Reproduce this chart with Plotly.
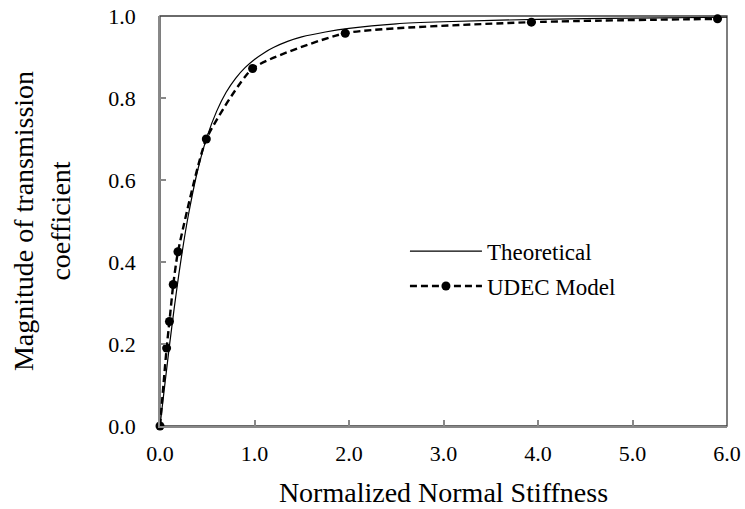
import plotly.graph_objects as go

# Theoretical curve
theo_x = [0, 0.05, 0.1, 0.15, 0.2, 0.25, 0.3, 0.4, 0.5, 0.6, 0.7, 0.8, 0.9, 1.0,
          1.1, 1.2, 1.35, 1.5, 1.75, 2.0, 2.5, 3.0, 4.0, 5.0, 6.0]
theo_y = [0, 0.099, 0.196, 0.287, 0.371, 0.447, 0.514, 0.625, 0.707, 0.768, 0.814,
          0.848, 0.874, 0.894, 0.910, 0.923, 0.938, 0.949, 0.961, 0.970, 0.981,
          0.986, 0.992, 0.995, 0.997]

# UDEC model points
udec_x = [0, 0.07, 0.10, 0.14, 0.19, 0.49, 0.98, 1.96, 3.93, 5.9]
udec_y = [0, 0.19, 0.255, 0.345, 0.425, 0.70, 0.872, 0.958, 0.985, 0.993]

x_ticks = [0, 1, 2, 3, 4, 5, 6]
x_tick_labels = ["0.0", "1.0", "2.0", "3.0", "4.0", "5.0", "6.0"]
y_ticks = [0, 0.2, 0.4, 0.6, 0.8, 1.0]
y_tick_labels = ["0.0", "0.2", "0.4", "0.6", "0.8", "1.0"]

FONT = "Liberation Serif, Times New Roman, serif"

fig = go.Figure()
fig.add_trace(go.Scatter(x=theo_x, y=theo_y, mode="lines", name="Theoretical",
                         legendgroup="a",
                         line=dict(color="black", width=1.2, shape="spline", smoothing=0.6)))
fig.add_trace(go.Scatter(x=udec_x, y=udec_y, mode="lines+markers", name="UDEC Model",
                         legendgroup="b", cliponaxis=False,
                         line=dict(color="black", width=2.4, dash="7px,4px",
                                   shape="spline", smoothing=0.5),
                         marker=dict(color="black", size=9)))

fig.add_shape(type="rect", xref="paper", yref="paper", x0=0, x1=1, y0=0, y1=1,
              line=dict(color="#3a3a3a", width=1.3), layer="below")

fig.update_layout(
    width=745, height=509,
    margin=dict(l=160, r=18, t=16, b=83),
    paper_bgcolor="white", plot_bgcolor="white",
    font=dict(family=FONT, color="black", size=22),
    showlegend=True,
    legend=dict(x=0.432, y=0.479, xanchor="left", yanchor="top",
                bgcolor="rgba(0,0,0,0)", font=dict(size=23, family=FONT),
                itemwidth=72, tracegroupgap=2),
    xaxis=dict(range=[0, 6], tickvals=x_ticks, ticktext=x_tick_labels,
               ticks="inside", ticklen=6, tickcolor="#888888", tickwidth=1.5,
               showline=True, linecolor="#888888", linewidth=1.5,
               showgrid=False, zeroline=False, automargin=False,
               ticklabelstandoff=7,
               tickfont=dict(size=22, family=FONT),
               title=dict(text="Normalized Normal Stiffness", font=dict(size=28, family=FONT),
                          standoff=17)),
    yaxis=dict(range=[0, 1.0], tickvals=y_ticks, ticktext=y_tick_labels,
               ticks="inside", ticklen=6, tickcolor="#888888", tickwidth=1.5,
               showline=True, linecolor="#888888", linewidth=1.5,
               showgrid=False, zeroline=False, ticklabelstandoff=18, automargin=False,
               tickfont=dict(size=22, family=FONT),
               title=dict(text="Magnitude of transmission<br>coefficient",
                          font=dict(size=28, family=FONT), standoff=30)),
)

fig.write_html("out.html", config={"displayModeBar": False},
               post_script="document.body.style.margin='0';")
